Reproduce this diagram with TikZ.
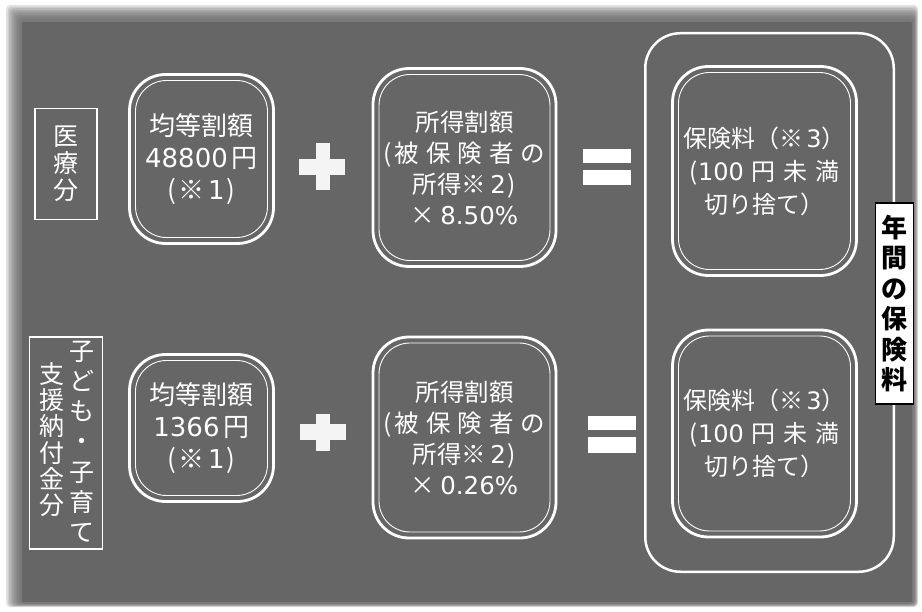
\documentclass[tikz,border=0pt]{standalone}
\usepackage{fontspec}
\newfontfamily\jp{Noto Sans CJK JP}
\newfontfamily\lat{DejaVu Sans}
\usetikzlibrary{calc}
\definecolor{panel}{HTML}{666666}
\definecolor{plusc}{HTML}{F4F4F4}
\begin{document}
\begin{tikzpicture}[x=1pt,y=-1pt,
  outerbox/.style={draw=white, line width=2.8pt, rounded corners=36pt, outer sep=0pt, inner sep=0pt, text=white, align=center},
  innerline/.style={draw=white, line width=0.9pt, rounded corners=31pt},
  atxt/.style={font=\jp\fontsize{26}{32}\selectfont},
  btxt/.style={font=\jp\fontsize{24.5}{31}\selectfont},
  ctxt/.style={font=\jp\fontsize{24}{33}\selectfont},
  lblbox/.style={draw=white, line width=1.8pt, outer sep=0pt, inner sep=0pt, text=white, align=center},
  vtxt/.style={text=white, align=center, inner sep=0pt},
  eqbar/.style={fill=white},
]
\useasboundingbox (0,0) rectangle (922,612);
\fill[white] (0,0) rectangle (922,612);
% panel with soft edge
\foreach \i in {0,...,9} {
  \fill[panel, opacity=0.18, rounded corners=4pt] (6+1.6*\i, 5+1.6*\i) rectangle (918-0.5*\i, 607-0.4*\i);
}
\fill[panel] (22,22) rectangle (912,602);

% big container
\node[draw=white, line width=2.5pt, rounded corners=35pt, minimum width=248.5, minimum height=538.5, outer sep=0pt] (cont) at (769.5,302.5) {};

% side labels
\node[lblbox, minimum width=62, minimum height=111, font=\jp\fontsize{25}{27}\selectfont] (lab1) at (66,164) {医\\療\\分};
\node[lblbox, minimum width=73, minimum height=212] (lab2) at (66,443) {};
\node[vtxt, font=\jp\fontsize{25}{30.2}\selectfont] (lab2r) at (82,441.5) {子\\ど\\も\\・\\子\\育\\て};
\node[vtxt, font=\jp\fontsize{25}{26.2}\selectfont] (lab2l) at (52,439.5) {支\\援\\納\\付\\金\\分};

% row 1
\node[outerbox, atxt, minimum width=144, minimum height=169] (a1) at (201.5,159) {均等割額\\{\lat 48800}\hspace{4pt}円\\(\hspace{2pt}※\hspace{4pt}{\lat 1}\hspace{2pt})};
\draw[innerline] ($(a1.north west)+(6,6)$) rectangle ($(a1.south east)+(-6,-6)$);
\node[outerbox, btxt, minimum width=183, minimum height=198] (b1) at (464.5,167.5) {所得割額\\(\hspace{3pt}被\hspace{7pt}保\hspace{7pt}険\hspace{7pt}者\hspace{7pt}の\\所得※\hspace{4pt}{\lat 2}\hspace{2pt})\\×\hspace{5pt}{\lat 8.50\%}};
\draw[innerline] ($(b1.north west)+(6,6)$) rectangle ($(b1.south east)+(-6,-6)$);
\node[outerbox, ctxt, minimum width=184, minimum height=209] (c1) at (764.5,171) {保険料（※\hspace{3pt}{\lat 3}）\\(\hspace{1pt}{\lat 100}\hspace{8pt}円\hspace{8pt}未\hspace{8pt}満\\切り捨て）};
\draw[innerline] ($(c1.north west)+(6,6)$) rectangle ($(c1.south east)+(-6,-6)$);

% row 2
\node[outerbox, atxt, minimum width=144, minimum height=147] (a2) at (201.5,428) {均等割額\\{\lat 1366}\hspace{4pt}円\\(\hspace{2pt}※\hspace{4pt}{\lat 1}\hspace{2pt})};
\draw[innerline] ($(a2.north west)+(6,6)$) rectangle ($(a2.south east)+(-6,-6)$);
\node[outerbox, btxt, minimum width=183, minimum height=201] (b2) at (464.5,437.5) {所得割額\\(\hspace{3pt}被\hspace{7pt}保\hspace{7pt}険\hspace{7pt}者\hspace{7pt}の\\所得※\hspace{4pt}{\lat 2}\hspace{2pt})\\×\hspace{5pt}{\lat 0.26\%}};
\draw[innerline] ($(b2.north west)+(6,6)$) rectangle ($(b2.south east)+(-6,-6)$);
\node[outerbox, ctxt, minimum width=184, minimum height=207] (c2) at (764.5,433.5) {保険料（※\hspace{3pt}{\lat 3}）\\(\hspace{1pt}{\lat 100}\hspace{8pt}円\hspace{8pt}未\hspace{8pt}満\\切り捨て）};
\draw[innerline] ($(c2.north west)+(6,6)$) rectangle ($(c2.south east)+(-6,-6)$);

% year label
\node[draw=black, fill=white, line width=1.5pt, minimum width=38, minimum height=201, inner sep=0pt, align=center, font=\jp\bfseries\fontsize{26}{30.5}\selectfont] (year) at (894.5,303.5) {年\\間\\の\\保\\険\\料};

% plus signs
\fill[plusc] (316,143) rectangle (330,190);
\fill[plusc] (299,159) rectangle (345,175);
\fill[plusc] (316,414) rectangle (330,451);
\fill[plusc] (300,424) rectangle (346,440);

% equals signs
\fill[eqbar] (583,149) rectangle (631,163);
\fill[eqbar] (583,170) rectangle (631,185);
\fill[eqbar] (588,416) rectangle (636,430);
\fill[eqbar] (588,437) rectangle (636,453);
\end{tikzpicture}
\end{document}
